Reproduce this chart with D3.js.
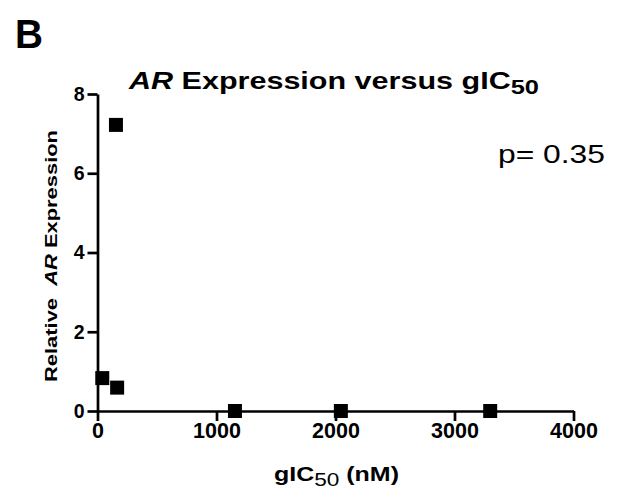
<!DOCTYPE html>
<meta charset="utf-8">
<style>
  body { margin: 0; background: #fff; }
  svg text { font-family: "Liberation Sans", Arial, sans-serif; fill: #000; }
</style>
<script src="https://d3js.org/d3.v7.min.js"></script>
<div id="chart"></div>
<script>
  // data
  const gic50 = [40, 155, 165, 1155, 2045, 3300];      // nM
  const arExpr = [0.83, 7.22, 0.59, 0, 0, 0];           // relative AR expression
  const xTicks = [0, 1000, 2000, 3000, 4000];
  const yTicks = [0, 2, 4, 6, 8];
  const pText = "p= 0.35";

  const W = 621, H = 501;
  const svg = d3.select("#chart").append("svg")
      .attr("width", W).attr("height", H);

  const x = d3.scaleLinear().domain([0, 4000]).range([97.5, 573.5]);
  const y = d3.scaleLinear().domain([0, 8]).range([411, 94]);

  // axes
  const yAxis = svg.append("g")
      .attr("transform", `translate(${x(0)},0)`)
      .call(d3.axisLeft(y).tickValues(yTicks).tickFormat(d3.format("d"))
        .tickSize(10).tickSizeOuter(0).tickPadding(3));
  const xAxis = svg.append("g")
      .attr("transform", `translate(0,${y(0)})`)
      .call(d3.axisBottom(x).tickValues(xTicks).tickFormat(d3.format("d"))
        .tickSize(10).tickSizeOuter(0).tickPadding(2));

  [yAxis, xAxis].forEach(g => {
    g.select(".domain").attr("stroke", "#000").attr("stroke-width", 2.7);
    g.selectAll(".tick line").attr("stroke", "#000").attr("stroke-width", 2.7);
    g.selectAll(".tick text")
      .attr("fill", "#000")
      .style("font-family", '"Liberation Sans", Arial, sans-serif')
      .style("font-weight", "bold");
  });
  yAxis.selectAll(".tick text").style("font-size", "19.5px");
  xAxis.selectAll(".tick text").style("font-size", "21.5px");

  // points
  const pts = gic50.map((v, i) => ({x: v, y: arExpr[i]}));
  svg.append("g").selectAll("rect").data(pts).enter()
    .append("rect")
      .attr("x", d => x(d.x) - 7)
      .attr("y", d => y(d.y) - 7)
      .attr("width", 14)
      .attr("height", 14)
      .attr("fill", "#000");

  // panel letter
  svg.append("text")
      .attr("x", 15).attr("y", 48)
      .style("font-size", "40px").style("font-weight", "bold")
      .attr("textLength", 28).attr("lengthAdjust", "spacingAndGlyphs")
      .text("B");

  // title
  const title = svg.append("text")
      .attr("x", 129).attr("y", 89)
      .attr("textLength", 410).attr("lengthAdjust", "spacingAndGlyphs")
      .style("font-size", "24px").style("font-weight", "bold");
  title.append("tspan").style("font-style", "italic").text("AR");
  title.append("tspan").text(" Expression versus gIC");
  title.append("tspan").attr("dy", 5).style("font-size", "20px").text("50");

  // y label
  const ylab = svg.append("text")
      .attr("transform", `translate(57,${(130 + 382) / 2}) rotate(-90)`)
      .attr("text-anchor", "middle")
      .attr("textLength", 252).attr("lengthAdjust", "spacingAndGlyphs")
      .style("font-size", "17px").style("font-weight", "bold");
  ylab.append("tspan").text("Relative\u00a0\u00a0");
  ylab.append("tspan").style("font-style", "italic").text("AR");
  ylab.append("tspan").text(" Expression");

  // x label
  const xlab = svg.append("text")
      .attr("x", 274).attr("y", 481)
      .attr("textLength", 125).attr("lengthAdjust", "spacingAndGlyphs")
      .style("font-size", "21px").style("font-weight", "bold");
  xlab.append("tspan").text("gIC");
  xlab.append("tspan").attr("dy", 5).style("font-size", "19px").style("font-weight", "normal").text("50");
  xlab.append("tspan").attr("dy", -5).text(" (nM)");

  // p value
  svg.append("text")
      .attr("x", 498).attr("y", 163)
      .attr("textLength", 107).attr("lengthAdjust", "spacingAndGlyphs")
      .style("font-size", "25px")
      .text(pText);
</script>
